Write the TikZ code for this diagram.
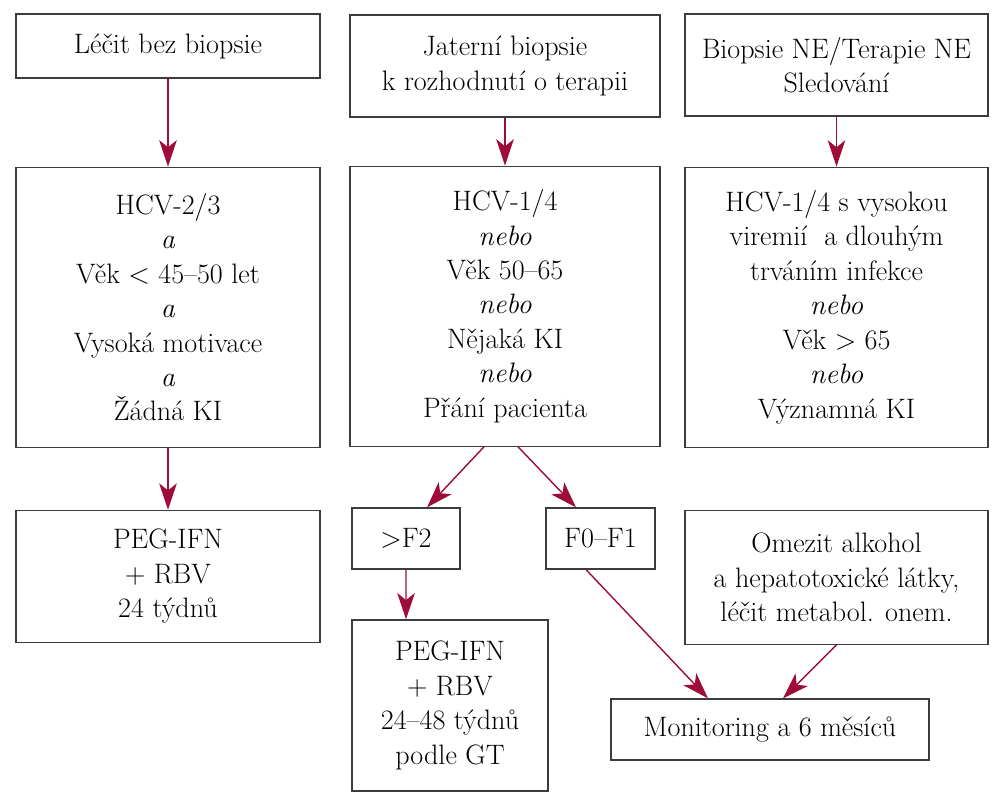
\documentclass[tikz,border=0pt]{standalone}
\usepackage{tikz}
\usetikzlibrary{positioning, arrows.meta}
\definecolor{arrowred}{RGB}{158,12,58}
\definecolor{boxgray}{RGB}{60,60,60}
\tikzset{flow box/.style={draw=boxgray,line width=0.7pt,align=center,inner sep=0pt,font=\fontsize{16}{19.6}\selectfont}}
\tikzset{flow arrow/.style={draw,color=arrowred,line width=0.8pt,-{Stealth[length=15pt,width=10pt,inset=4pt]}}}

\begin{document}
\begin{tikzpicture}[x=0.02cm,y=-0.02cm]
        \useasboundingbox (0,0) rectangle (1006,800);
        \node[flow box, minimum width=6.08cm, minimum height=1.28cm] (treat) at (168,46) {Léčit bez biopsie};
        \node[flow box, minimum width=6.2cm, minimum height=2.04cm] (biopsy) at (505,66) {Jaterní biopsie\\k rozhodnutí o terapii};
        \node[flow box, minimum width=6.06cm, minimum height=2.04cm] (watch) at (836.5,65) {Biopsie NE/Terapie NE\\Sledování};

        \node[flow box, minimum width=6.08cm, minimum height=5.6cm] (geno23) [below = 1.76cm of treat] {HCV-2/3\\\textit{a}\\Věk < 45–50 let\\\textit{a}\\Vysoká motivace\\\textit{a}\\Žádná KI};
        \node[flow box, minimum width=6.2cm, minimum height=5.6cm] (geno14) [below = 0.96cm of biopsy] {HCV-1/4\\\textit{nebo}\\Věk 50–65\\\textit{nebo}\\Nějaká KI\\\textit{nebo}\\Přání pacienta};
        \node[flow box, minimum width=6.06cm, minimum height=5.6cm] (viremia) [below = 1cm of watch] {HCV-1/4 s vysokou\\viremií\ \ a dlouhým\\trváním infekce\\\textit{nebo}\\Věk > 65\\\textit{nebo}\\Významná KI};

        \node[flow box, minimum width=6.08cm, minimum height=2.64cm] (peg24) [below = 1.24cm of geno23] {PEG-IFN\\+ RBV\\24 týdnů};
        \node[flow box, minimum width=2.16cm, minimum height=1.22cm] (fhigh) at (406,538.5) {>F2};
        \node[flow box, minimum width=2.18cm, minimum height=1.22cm] (flow) at (600.5,538.5) {F0–F1};
        \node[flow box, minimum width=6.06cm, minimum height=2.68cm] (limit) [below = 1.24cm of viremia] {Omezit alkohol\\a hepatotoxické látky,\\léčit metabol. onem.};
        \node[flow box, minimum width=3.92cm, minimum height=3.42cm] (peg48) at (450,705.5) {PEG-IFN\\+ RBV\\24–48 týdnů\\podle GT};
        \node[flow box, minimum width=6.36cm, minimum height=1.22cm] (monitor) at (770,729.5) {Monitoring a 6 měsíců};

        \path[every edge/.style={flow arrow}]
        (treat) edge (geno23)
        (biopsy) edge (geno14)
        (watch) edge (viremia)
        (geno23) edge (peg24)
        ([xshift=-0.42cm]geno14.south) edge ([xshift=0.42cm]fhigh.north)
        ([xshift=0.26cm]geno14.south) edge ([xshift=-0.49cm]flow.north)
        (fhigh) edge ([xshift=-0.88cm]peg48.north)
        ([xshift=-0.29cm]flow.south) edge ([xshift=-1.24cm]monitor.north)
        (limit.south) edge ([xshift=0.26cm]monitor.north);
    \end{tikzpicture}
\end{document}
